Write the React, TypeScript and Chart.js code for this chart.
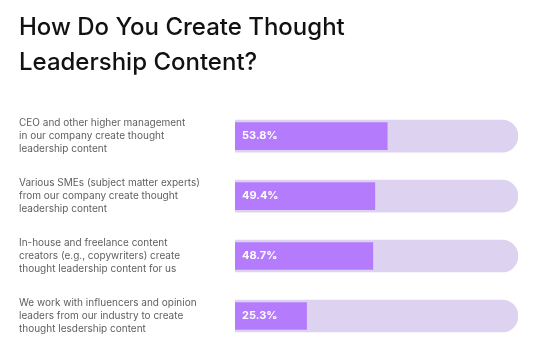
import React, { useEffect, useRef } from "react";
import { Chart, registerables } from "chart.js";

Chart.register(...registerables);

const titleLines = ["How Do You Create Thought", "Leadership Content?"];
const categories: string[][] = [
  ["CEO and other higher management", "in our company create thought", "leadership content"],
  ["Various SMEs (subject matter experts)", "from our company create thought", "leadership content"],
  ["In-house and freelance content", "creators (e.g., copywriters) create", "thought leadership content for us"],
  ["We work with influencers and opinion", "leaders from our industry to create", "thought lesdership content"],
];
const values = [53.8, 49.4, 48.7, 25.3];
const totals = [100, 100, 100, 100];

const valueLabelPlugin = {
  id: "valueLabels",
  afterDatasetsDraw(chart: any) {
    const meta = chart.getDatasetMeta(0);
    const ctx = chart.ctx;
    ctx.save();
    ctx.fillStyle = "#ffffff";
    ctx.font = "bold 11px Inter, 'DejaVu Sans', sans-serif";
    ctx.textBaseline = "middle";
    ctx.textAlign = "left";
    meta.data.forEach((bar: any, i: number) => {
      ctx.fillText(values[i].toFixed(1) + "%", bar.base + 7, bar.y);
    });
    ctx.restore();
  },
};

export default function App() {
  const ref = useRef<HTMLCanvasElement | null>(null);
  useEffect(() => {
    if (!ref.current) return;
    const chart = new Chart(ref.current, {
      type: "bar",
      data: {
        labels: categories,
        datasets: [
          {
            data: values,
            backgroundColor: "#b47cfc",
            barThickness: 27,
            grouped: false,
            order: 0,
            borderSkipped: false,
          },
          {
            data: totals,
            backgroundColor: "#ddd2ef",
            barThickness: 32,
            grouped: false,
            order: 1,
            borderRadius: { topLeft: 0, bottomLeft: 0, topRight: 16, bottomRight: 16 },
            borderSkipped: false,
          },
        ],
      },
      options: {
        indexAxis: "y",
        animation: false,
        responsive: true,
        maintainAspectRatio: false,
        layout: { padding: { left: 19, right: 22, top: 4, bottom: 8 } },
        plugins: {
          legend: { display: false },
          tooltip: { enabled: false },
          title: {
            display: true,
            text: titleLines,
            align: "start",
            color: "#111111",
            font: { family: "Inter, 'DejaVu Sans', sans-serif", size: 24, weight: "500", lineHeight: 1.46 },
            padding: { top: 6, bottom: 26 },
          },
        },
        scales: {
          x: { display: false, min: 0, max: 100 },
          y: {
            grid: { display: false },
            border: { display: false },
            ticks: {
              crossAlign: "far",
              color: "#5f5f5f",
              font: { family: "Inter, 'DejaVu Sans', sans-serif", size: 10, lineHeight: 1.3 },
              padding: 0,
            },
            afterFit: (scale: any) => {
              scale.width = 216;
              scale.paddingTop = 0;
              scale.paddingBottom = 0;
            },
          },
        },
      },
      plugins: [valueLabelPlugin],
    });
    return () => chart.destroy();
  }, []);
  return (
    <div style={{ position: "fixed", left: 0, top: 0, width: 540, height: 354, background: "#fff" }}>
      <canvas ref={ref} />
    </div>
  );
}
